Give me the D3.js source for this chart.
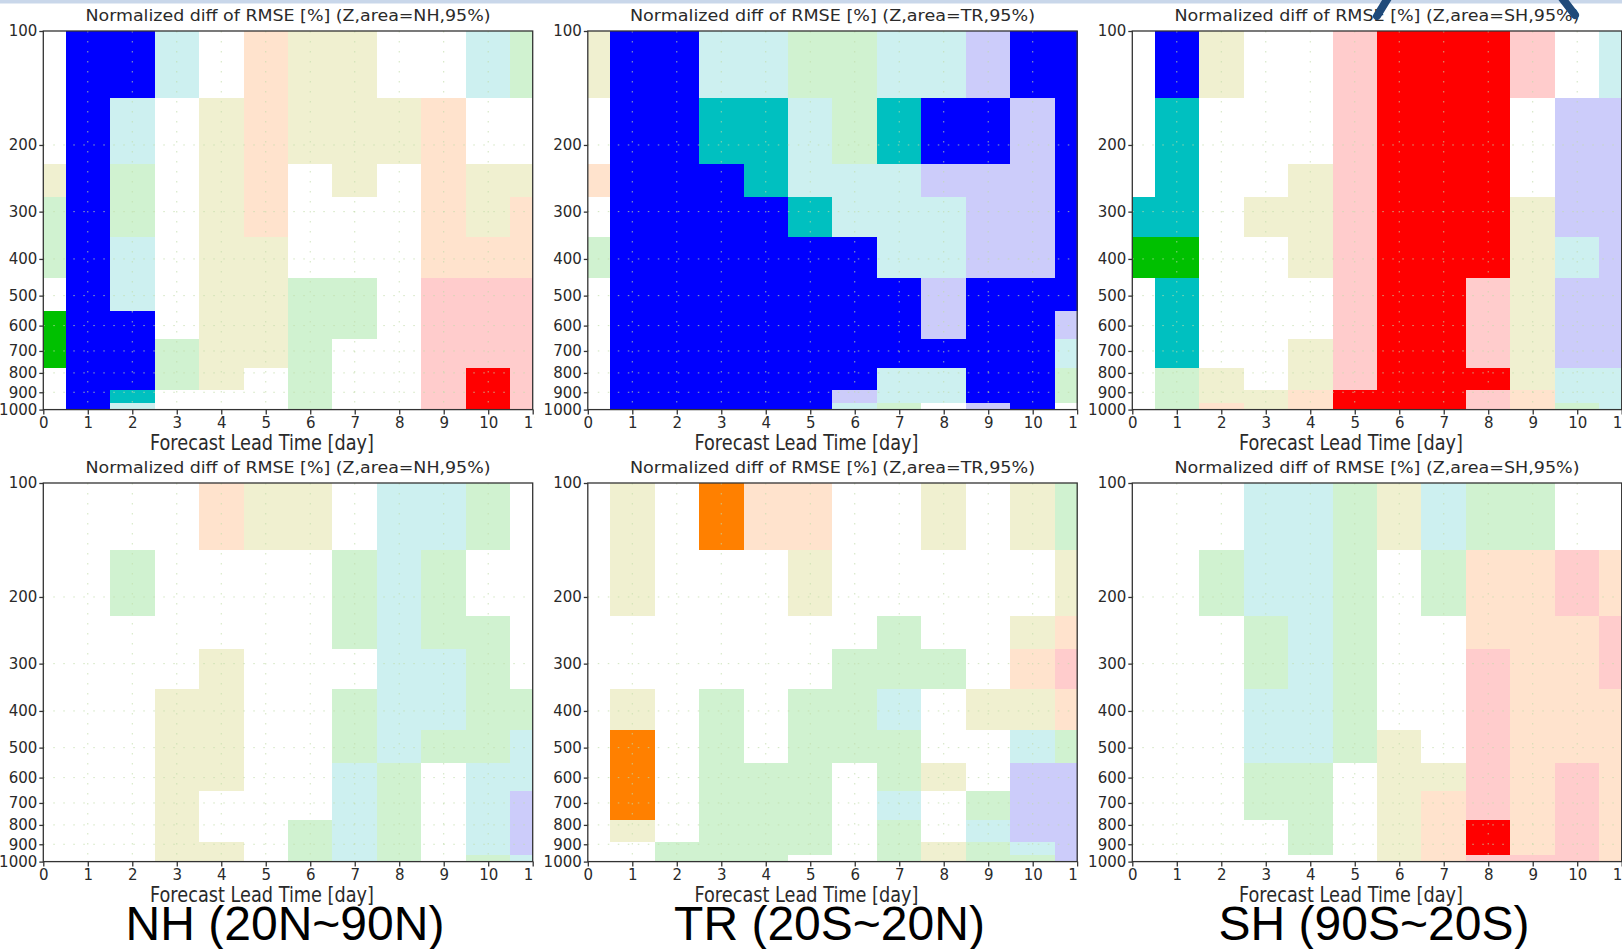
<!DOCTYPE html>
<html>
<head>
<meta charset="utf-8">
<script src="https://cdn.jsdelivr.net/npm/d3@7"></script>
<style>
  body { margin: 0; background: #fff; overflow: hidden; }
  svg { display: block; }
  text { font-family: "DejaVu Sans", sans-serif; fill: #2a2a2a; }
  .region { font-family: "Liberation Sans", Arial, sans-serif; fill: #000; }
</style>
</head>
<body>
<svg id="chart" width="1622" height="949"></svg>
<script>
// Pressure levels of the rows (hPa), top to bottom
const levels = [100, 200, 250, 300, 400, 500, 600, 700, 850, 925, 1000]
// Forecast lead time columns (day)
const days = [0, 1, 2, 3, 4, 5, 6, 7, 8, 9, 10, 11]
const yTicks = [100, 200, 300, 400, 500, 600, 700, 800, 900, 1000]
const xTicks = [0, 1, 2, 3, 4, 5, 6, 7, 8, 9, 10, 11]

// Shading classes: B/T/G significant decrease, v/c/g decrease, W none,
// Y/P/K increase, O/R significant increase
const classes = ["B", "T", "G", "v", "c", "g", "W", "Y", "P", "K", "O", "R"]
const classColors = ["#0000ff", "#00c0c0", "#00c000", "#ccccfa", "#cdf0f0", "#d0f2d0",
                     "#ffffff", "#f0f0d0", "#ffe3cd", "#ffcccc", "#ff8000", "#ff0000"]

// one string per level, one letter per day (0..11)
const nhTop = [
  "WBBcWPYYWWcg",
  "WBcWYPYYYPWW",
  "YBgWYPWYWPYY",
  "gBgWYPWWWPYP",
  "gBcWYYWWWPPP",
  "WBcWYYggWKKK",
  "GBBWYYggWKKK",
  "GBBgYYgWWKKK",
  "WBBgYWgWWKRK",
  "WBTWWWgWWKRK",
  "WBcWWWgWWKRK"
]
const trTop = [
  "YBBccggccvBB",
  "WBBTTcgTBBvB",
  "PBBBTcccvvvB",
  "WBBBBTcccvvB",
  "gBBBBBBccvvB",
  "WBBBBBBBvBBB",
  "WBBBBBBBvBBv",
  "WBBBBBBBBBBc",
  "WBBBBBBccBBg",
  "WBBBBBvccBBg",
  "WBBBBBcgWvBW"
]
const shTop = [
  "WBYWWKRRRKWc",
  "WTWWWKRRRWvv",
  "WTWWYKRRRWvv",
  "TTWYYKRRRYvv",
  "GGWWYKRRRYcv",
  "WTWWWKRRKYvv",
  "WTWWWKRRKYvv",
  "WTWWYKRRKYvv",
  "WgYWYKRRRYcc",
  "WgYYPRRRKPcc",
  "WgPYPRRRKPgc"
]
const nhBottom = [
  "WWWWPYYWccgW",
  "WWgWWWWgcgWW",
  "WWWWWWWgcggW",
  "WWWWYWWWccgW",
  "WWWYYWWgccgg",
  "WWWYYWWgcggc",
  "WWWYYWWcgWcc",
  "WWWYWWWcgWcv",
  "WWWYWWgcgWcv",
  "WWWYYWgcgWcv",
  "WWWYYWgcgWgc"
]
const trBottom = [
  "WYWOPPWWYWYg",
  "WYWWWYWWWWWY",
  "WWWWWWWgWWYP",
  "WWWWWWgggWPK",
  "WYWgWggcWYYP",
  "WOWgWgggWWcg",
  "WOWgggWgYWvv",
  "WOWgggWcWgvv",
  "WYWgggWgWcvv",
  "WWggggWgYgcv",
  "WWgggWWgYggv"
]
const shBottom = [
  "WWWccgYcggWW",
  "WWgccgWgPPKP",
  "WWWgcgWWPPPK",
  "WWWgcgWWKPPK",
  "WWWccgWWKPPP",
  "WWWccgYWKPPP",
  "WWWggWYYKPKP",
  "WWWggWYPKPKP",
  "WWWWgWYPRPKP",
  "WWWWgWYPRPKP",
  "WWWWWWYPKKKP"
]

const areas = ["NH", "TR", "SH"]
const regionLabels = ["NH (20N~90N)", "TR (20S~20N)", "SH (90S~20S)"]

// Layout
const panelW = 489.4, panelH = 378.6
const panelLeft = [43.3, 587.8, 1132.3]
const panelTop = [31, 483]

const color = d3.scaleOrdinal().domain(classes).range(classColors)
const x = d3.scaleLinear().domain([0, 11]).range([0, panelW])
const y = d3.scaleLog().domain([100, 1000]).range([0, panelH])

// cell edges halfway between levels (like GrADS grfill)
const edges = [levels[0]]
for (let i = 1; i < levels.length; i++) edges.push((levels[i - 1] + levels[i]) / 2)
edges.push(levels[levels.length - 1])

const svg = d3.select("#chart")

const panels = [
  { area: 0, row: 0, grid: nhTop }, { area: 1, row: 0, grid: trTop }, { area: 2, row: 0, grid: shTop },
  { area: 0, row: 1, grid: nhBottom }, { area: 1, row: 1, grid: trBottom }, { area: 2, row: 1, grid: shBottom }
]

panels.forEach((p, pi) => {
  const g = svg.append("g")
    .attr("transform", `translate(${panelLeft[p.area]},${panelTop[p.row]})`)

  // the right-most tick label is cut at the panel edge
  const clipId = "clip" + pi
  g.append("clipPath").attr("id", clipId)
    .append("rect").attr("x", -50).attr("y", -40).attr("width", panelW + 51.5).attr("height", panelH + 100)

  const cells = []
  p.grid.forEach((rowStr, li) => {
    days.forEach((d, di) => {
      cells.push({ top: edges[li], bottom: edges[li + 1],
                   x0: Math.max(0, d - 0.5), x1: Math.min(11, d + 0.5), c: rowStr[di] })
    })
  })
  g.append("g").selectAll("rect").data(cells).join("rect")
    .attr("x", d => x(d.x0))
    .attr("y", d => y(d.top))
    .attr("width", d => x(d.x1) - x(d.x0) + 0.5)
    .attr("height", d => y(d.bottom) - y(d.top) + 0.5)
    .attr("fill", d => color(d.c))
    .attr("shape-rendering", "crispEdges")

  // dotted grid
  const grid = g.append("g").attr("stroke", "#c0dca8").attr("stroke-opacity", 0.75)
    .attr("stroke-dasharray", "1.5,8.5").attr("stroke-width", 1)
  grid.selectAll(".gx").data(xTicks.slice(1, -1)).join("line")
    .attr("x1", d => x(d)).attr("x2", d => x(d)).attr("y1", 0).attr("y2", panelH)
  grid.selectAll(".gy").data(yTicks.slice(1, -1)).join("line")
    .attr("y1", d => y(d)).attr("y2", d => y(d)).attr("x1", 0).attr("x2", panelW)

  // frame
  g.append("rect").attr("width", panelW).attr("height", panelH)
    .attr("fill", "none").attr("stroke", "#333").attr("stroke-width", 1.3)

  // axes
  const ya = g.append("g").call(d3.axisLeft(y).tickValues(yTicks).tickFormat(d3.format("d"))
    .tickSize(4).tickSizeOuter(0).tickPadding(2))
  const xa = g.append("g").attr("transform", `translate(0,${panelH})`)
    .attr("clip-path", `url(#${clipId})`)
    .call(d3.axisBottom(x).tickValues(xTicks).tickFormat(d3.format("d"))
      .tickSize(5).tickSizeOuter(0).tickPadding(3))
  ;[ya, xa].forEach(a => {
    a.select(".domain").remove()
    a.selectAll("line").attr("stroke", "#333").attr("stroke-width", 1.3)
    a.selectAll("text").attr("font-size", 15).attr("font-family", "DejaVu Sans").attr("fill", "#2a2a2a")
  })

  // title
  g.append("text")
    .attr("x", panelW / 2).attr("y", -10)
    .attr("text-anchor", "middle")
    .attr("font-size", 16)
    .attr("textLength", 405).attr("lengthAdjust", "spacingAndGlyphs")
    .text(`Normalized diff of RMSE [%] (Z,area=${areas[p.area]},95%)`)

  // x axis title
  g.append("text")
    .attr("x", panelW / 2 - 26).attr("y", panelH + 40.5)
    .attr("text-anchor", "middle")
    .attr("font-size", 22)
    .attr("textLength", 224).attr("lengthAdjust", "spacingAndGlyphs")
    .text("Forecast Lead Time [day]")
})

// region labels under the bottom row
svg.selectAll(".region").data(regionLabels).join("text")
  .attr("class", "region")
  .attr("x", (d, i) => panelLeft[i] + panelW / 2 - 3)
  .attr("y", 940)
  .attr("text-anchor", "middle")
  .attr("font-size", 48)
  .text(d => d)

// slide decoration at the top
svg.append("rect").attr("x", 0).attr("y", 0).attr("width", 1622).attr("height", 3.5).attr("fill", "#c9d7ea")
svg.append("line").attr("x1", 1388).attr("y1", -2).attr("x2", 1377).attr("y2", 16)
  .attr("stroke", "#1f4a7a").attr("stroke-width", 8).attr("stroke-linecap", "round")
svg.append("line").attr("x1", 1562).attr("y1", -2).attr("x2", 1575).attr("y2", 15)
  .attr("stroke", "#1f4a7a").attr("stroke-width", 8).attr("stroke-linecap", "round")
</script>
</body>
</html>
